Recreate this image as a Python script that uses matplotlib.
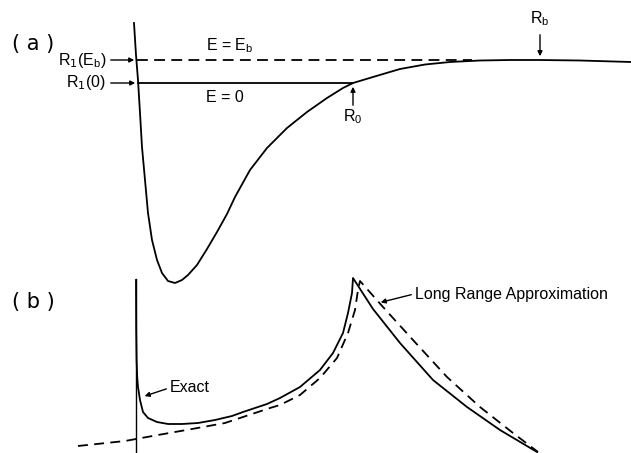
import numpy as np
import matplotlib.pyplot as plt

plt.rcParams['font.family'] = ['Liberation Sans', 'DejaVu Sans']

# panel (a): potential curve (x right, y down)
pot_r = [134, 136, 138, 140, 142, 145, 148, 152, 157, 162, 168, 175, 182, 188,
         197, 207, 217, 227, 235, 250, 267, 287, 307, 327, 343, 353, 373, 400,
         425, 450, 480, 510, 540, 580, 631]
pot_v = [23, 55, 80, 113, 147, 180, 213, 240, 260, 273, 281, 283, 280, 275,
         265, 249, 232, 214, 197, 170, 148, 128, 112, 98, 88, 83, 77, 69,
         64.5, 62, 60.5, 60, 60, 60.5, 62]

e0_y = 83        # E = 0 level
eb_y = 60        # E = Eb level
r1_0 = 138
r1_eb = 137
r_0 = 353
r_b = 540
eb_end = 472

# panel (b): exact curve
ex_r = [136, 136.2, 136.6, 137.2, 138, 140, 143, 148, 157, 168, 182, 198, 215,
        232, 243, 267, 280, 300, 320, 333, 343, 348, 352, 353,
        373, 400, 433, 467, 500, 537]
ex_v = [280, 330, 360, 377, 387, 400, 412, 418, 422, 424, 424, 423, 420,
        416, 412, 404, 398, 387, 370, 353, 333, 313, 293, 278,
        309, 343, 380, 407, 430, 452]
# panel (b): long range approximation
lr_r = [78, 125, 136, 158, 192, 225, 243, 270, 280, 300, 320, 337, 348, 355,
        358, 360, 383, 413, 447, 480, 513, 538]
lr_v = [446, 441, 439, 435, 429, 423, 417, 408, 405, 395, 378, 358, 333, 310,
        290, 281, 307, 340, 377, 407, 433, 452]
wall_x = 136
wall_top = 279

fig = plt.figure(figsize=(6.31, 4.53), dpi=100)
ax = fig.add_axes([0, 0, 1, 1])
ax.set_xlim(0, 631)
ax.set_ylim(453, 0)
ax.axis('off')

lw = 1.3
dash = (6, 3.5)

# (a)
ax.plot(pot_r, pot_v, color='black', lw=lw, solid_joinstyle='round')
ax.plot([r1_0, r_0], [e0_y, e0_y], color='black', lw=lw)
ax.plot([r1_eb, eb_end], [eb_y, eb_y], color='black', lw=lw, dashes=dash)

arr = dict(arrowstyle='-|>', color='black', lw=1.0, mutation_scale=7)
ax.annotate('', xy=(r1_eb, eb_y), xytext=(108, eb_y), arrowprops=arr)
ax.annotate('', xy=(r1_0, e0_y), xytext=(108, e0_y), arrowprops=arr)
ax.annotate('', xy=(r_0, e0_y + 1), xytext=(r_0, 108), arrowprops=arr)
ax.annotate('', xy=(r_b, eb_y - 1), xytext=(r_b, 32), arrowprops=arr)

fs = 11.5
ax.text(106, eb_y, r'R$_1$(E$_\mathregular{b}$)', ha='right', va='center', fontsize=fs)
ax.text(106, e0_y, r'R$_1$(0)', ha='right', va='center', fontsize=fs)
ax.text(206, 46, r'E = E$_\mathregular{b}$', ha='left', va='center', fontsize=fs)
ax.text(206, 97, 'E = 0', ha='left', va='center', fontsize=fs)
ax.text(r_0, 117, r'R$_\mathregular{0}$', ha='center', va='center', fontsize=fs)
ax.text(r_b, 19, r'R$_\mathregular{b}$', ha='center', va='center', fontsize=fs)
ax.text(12, 44, '( a )', ha='left', va='center', fontsize=15, family='DejaVu Sans')

# (b)
ax.plot([wall_x, wall_x], [wall_top, 453], color='black', lw=1.0)
ax.plot(ex_r, ex_v, color='black', lw=lw, solid_joinstyle='round')
ax.plot(lr_r, lr_v, color='black', lw=lw, dashes=(5.5, 3.5))
ax.annotate('', xy=(142, 397), xytext=(169, 388), arrowprops=arr)
ax.annotate('', xy=(378, 303), xytext=(414, 294), arrowprops=arr)
ax.text(170, 388, 'Exact', ha='left', va='center', fontsize=fs)
ax.text(415, 294, 'Long Range Approximation', ha='left', va='center', fontsize=fs)
ax.text(12, 302, '( b )', ha='left', va='center', fontsize=15, family='DejaVu Sans')

fig.savefig('out.png', dpi=100)
